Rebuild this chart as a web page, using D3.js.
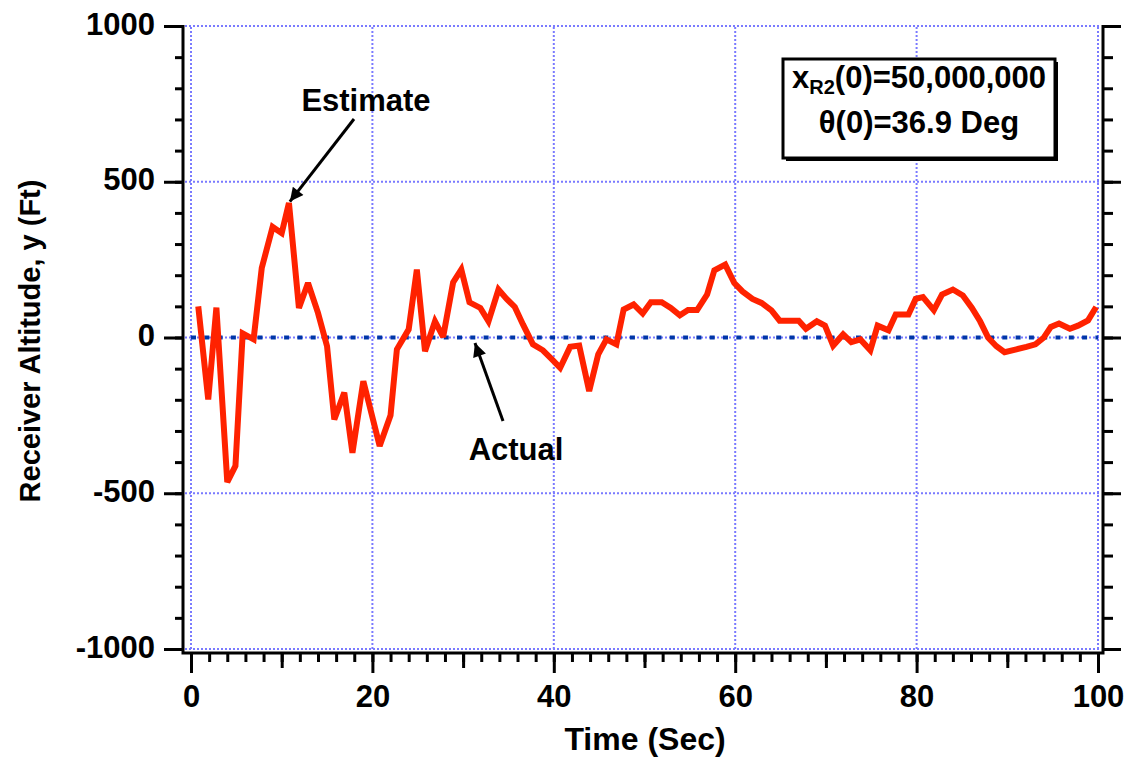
<!DOCTYPE html>
<html>
<head>
<meta charset="utf-8">
<script src="https://cdn.jsdelivr.net/npm/d3@7"></script>
<style>
  body { margin: 0; background: #fff; }
  text { font-family: "Liberation Sans", Arial, Helvetica, sans-serif; font-weight: bold; }
</style>
</head>
<body>
<div id="chart"></div>
<script>
// Estimate of receiver altitude (Ft) vs time (Sec)
const estTimes = [0.8, 1.9, 2.8, 4.0, 4.9, 5.7, 6.9, 7.8, 9.0, 10.0,
    10.8, 11.9, 12.9, 14.0, 15.0, 15.8, 16.9, 17.8, 19.0, 20.8,
    22.0, 22.7, 24.0, 24.9, 25.8, 26.9, 27.8, 28.9, 29.8, 30.7,
    31.9, 32.8, 33.9, 34.8, 35.7, 36.6, 37.7, 38.8, 39.8, 40.7,
    41.8, 42.8, 43.9, 44.9, 45.8, 46.9, 47.7, 48.8, 49.8, 50.7,
    51.9, 52.9, 53.9, 54.8, 55.8, 56.9, 57.7, 58.9, 59.9, 60.8,
    61.9, 62.9, 64.0, 64.9, 66.0, 67.0, 67.8, 69.0, 69.9, 70.8,
    71.9, 72.8, 73.8, 74.9, 75.7, 76.9, 77.7, 79.1, 79.9, 80.7,
    81.9, 82.8, 84.0, 85.1, 86.1, 87.0, 87.9, 88.8, 89.7, 91.0,
    92.1, 93.1, 94.0, 94.8, 95.7, 96.9, 97.8, 98.9, 99.8];
const estValues = [100, -199, 96, -464, -412, 13, -6, 223, 355, 335,
    432, 95, 175, 79, -28, -263, -177, -370, -140, -348,
    -250, -38, 26, 218, -44, 52, 2, 177, 218, 113,
    95, 52, 154, 124, 98, 42, -22, -41, -70, -97,
    -30, -26, -172, -54, -6, -22, 90, 106, 77, 113,
    113, 95, 71, 88, 88, 138, 216, 234, 175, 148,
    124, 111, 87, 54, 54, 54, 28, 52, 38, -26,
    10, -15, -6, -41, 38, 23, 74, 74, 124, 130,
    88, 138, 154, 135, 95, 52, -1, -28, -47, -38,
    -30, -22, -1, 34, 45, 28, 38, 55, 98];

// Actual altitude is zero throughout
const actualTimes = [0, 100];
const actualValues = [0, 0];

const xTicks = [0, 20, 40, 60, 80, 100];
const yTicks = [-1000, -500, 0, 500, 1000];

const width = 1127;
const height = 760;

const svg = d3.select("#chart")
    .append("svg")
    .attr("width", width)
    .attr("height", height);

const x = d3.scaleLinear().domain([0, 100]).range([191, 1098]);
const y = d3.scaleLinear().domain([-1000, 1000]).range([649, 26]);

// frame positions (offset from the data area)
const frameLeft = 183, frameRight = 1103, frameBottom = 653, frameTop = 26;

// Grid
const grid = svg.append("g")
    .style("stroke", "#7a7aff")
    .style("stroke-width", 2)
    .style("stroke-dasharray", "2,2");

grid.selectAll(".vgrid")
    .data(xTicks)
    .enter()
    .append("line")
    .attr("x1", d => x(d)).attr("x2", d => x(d))
    .attr("y1", y(-1000)).attr("y2", y(1000));

grid.selectAll(".hgrid")
    .data(yTicks)
    .enter()
    .append("line")
    .attr("x1", frameLeft + 2).attr("x2", frameRight - 2)
    .attr("y1", d => y(d)).attr("y2", d => y(d));

// Axes
function styleAxis(g) {
    g.select(".domain").remove();
    g.selectAll(".tick line").attr("stroke", "#000").attr("stroke-width", 3);
    g.selectAll(".tick text")
        .attr("fill", "#000")
        .style("font-size", "31px")
        .style("font-family", "'Liberation Sans', Arial, sans-serif")
        .style("font-weight", "bold");
}

const plainNum = d => String(d);

svg.append("g")
    .attr("transform", `translate(${frameLeft},0)`)
    .call(d3.axisLeft(y).tickValues(d3.range(-1000, 1001, 100)).tickSize(8).tickFormat(""))
    .call(styleAxis);

svg.append("g")
    .attr("transform", `translate(${frameLeft},0)`)
    .call(d3.axisLeft(y).tickValues(yTicks).tickSize(19).tickPadding(9).tickFormat(plainNum))
    .call(styleAxis)
    .selectAll(".tick text").attr("dy", "0.26em");

svg.append("g")
    .attr("transform", `translate(${frameRight},0)`)
    .call(d3.axisRight(y).tickValues(d3.range(-1000, 1001, 100)).tickSize(10).tickFormat(""))
    .call(styleAxis);

svg.append("g")
    .attr("transform", `translate(${frameRight},0)`)
    .call(d3.axisRight(y).tickValues(yTicks).tickSize(18).tickFormat(""))
    .call(styleAxis);

svg.append("g")
    .attr("transform", `translate(0,${frameBottom})`)
    .call(d3.axisBottom(x).tickValues(d3.range(0, 101, 2)).tickSize(9).tickFormat(""))
    .call(styleAxis);

svg.append("g")
    .attr("transform", `translate(0,${frameBottom})`)
    .call(d3.axisBottom(x).tickValues(d3.range(10, 100, 20)).tickSize(15).tickFormat(""))
    .call(styleAxis);

svg.append("g")
    .attr("transform", `translate(0,${frameBottom})`)
    .call(d3.axisBottom(x).tickValues(xTicks).tickSize(20).tickPadding(12).tickFormat(plainNum))
    .call(styleAxis);

// Frame: left, bottom, right
svg.append("path")
    .attr("d", `M${frameLeft},${frameTop - 1} L${frameLeft},${frameBottom} L${frameRight},${frameBottom} L${frameRight},${frameTop - 1}`)
    .attr("fill", "none")
    .attr("stroke", "#000")
    .attr("stroke-width", 3);

// Actual (zero line)
const line = d3.line().x(d => x(d[0])).y(d => y(d[1]));

svg.append("path")
    .datum(d3.zip(actualTimes, actualValues))
    .attr("d", line)
    .attr("fill", "none")
    .attr("stroke", "#0036a8")
    .attr("stroke-width", 4)
    .attr("stroke-dasharray", "5,8.3");

// Estimate
svg.append("path")
    .datum(d3.zip(estTimes, estValues))
    .attr("d", line)
    .attr("fill", "none")
    .attr("stroke", "#ff2200")
    .attr("stroke-width", 6)
    .attr("stroke-linejoin", "miter")
    .attr("stroke-miterlimit", 3);

// Axis titles
svg.append("text")
    .attr("x", 645)
    .attr("y", 750)
    .attr("text-anchor", "middle")
    .style("font-size", "32px")
    .text("Time (Sec)");

svg.append("text")
    .attr("transform", "translate(40,341) rotate(-90)")
    .attr("text-anchor", "middle")
    .style("font-size", "29px")
    .text("Receiver Altitude, y (Ft)");

// Annotations with arrows
const defs = svg.append("defs");
defs.append("marker")
    .attr("id", "arrow")
    .attr("viewBox", "0 0 10 10")
    .attr("refX", 10)
    .attr("refY", 5)
    .attr("markerWidth", 6)
    .attr("markerHeight", 4.5)
    .attr("markerUnits", "strokeWidth")
    .attr("orient", "auto")
    .append("path")
    .attr("d", "M0,0 L10,5 L0,10 Z")
    .attr("fill", "#000");

function annotate(label, tx, ty, x1, y1, x2, y2) {
    svg.append("text")
        .attr("x", tx)
        .attr("y", ty)
        .attr("text-anchor", "middle")
        .style("font-size", "31px")
        .text(label);
    svg.append("line")
        .attr("x1", x1).attr("y1", y1)
        .attr("x2", x2).attr("y2", y2)
        .attr("stroke", "#000")
        .attr("stroke-width", 3)
        .attr("marker-end", "url(#arrow)");
}

annotate("Estimate", 366, 111, 354, 119, x(10.9), y(430) - 2);
annotate("Actual", 516, 460, 503, 421, 475, 343);

// Initial condition box
const box = svg.append("g");
box.append("rect")
    .attr("x", 786).attr("y", 62)
    .attr("width", 272).attr("height", 99)
    .attr("fill", "#000");
box.append("rect")
    .attr("x", 783).attr("y", 59)
    .attr("width", 272).attr("height", 99)
    .attr("fill", "#fff")
    .attr("stroke", "#000")
    .attr("stroke-width", 3);

const line1 = box.append("text")
    .attr("x", 919)
    .attr("y", 88)
    .attr("text-anchor", "middle")
    .style("font-size", "31px");
line1.append("tspan").text("x");
line1.append("tspan").attr("dy", 6).style("font-size", "20px").text("R2");
line1.append("tspan").attr("dy", -6).text("(0)=50,000,000");

box.append("text")
    .attr("x", 919)
    .attr("y", 133)
    .attr("text-anchor", "middle")
    .style("font-size", "31px")
    .text("θ(0)=36.9 Deg");
</script>
</body>
</html>
